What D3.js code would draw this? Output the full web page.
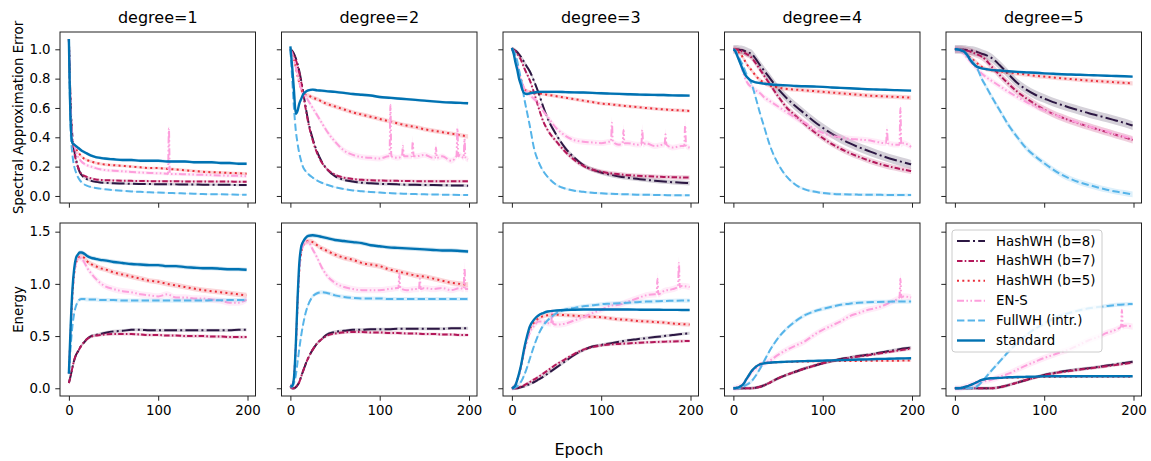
<!DOCTYPE html>
<html><head><meta charset="utf-8">
<script src="https://cdn.jsdelivr.net/npm/d3@7"></script>
<style>
body{margin:0;background:#fff}
svg{display:block}
text{font-family:"DejaVu Sans",sans-serif;fill:#000}
</style>
</head><body>
<svg id="c" width="1151" height="461"></svg>
<script>
// ---------------- DATA ----------------
const degrees = ["degree=1","degree=2","degree=3","degree=4","degree=5"];
const seriesNames = ["HashWH (b=8)","HashWH (b=7)","HashWH (b=5)","EN-S","FullWH (intr.)","standard"];
const epochs = [0,2,4,6,8,10,12,14,17,20,25,30,35,40,50,60,70,80,90,100,110,120,130,140,150,160,170,180,190,199];
const xTicks = [0,100,200];
const errTicks = [0,0.2,0.4,0.6,0.8,1.0];
const enTicks = [0,0.5,1.0,1.5];

// Spectral Approximation Error (top row), one array per degree
const err_b8 = [
 [1.07,0.62,0.40,0.31,0.25,0.20,0.165,0.145,0.125,0.115,0.103,0.096,0.092,0.090,0.087,0.085,0.083,0.082,0.081,0.080,0.080,0.079,0.078,0.078,0.077,0.077,0.076,0.076,0.075,0.075],
 [1.00,0.99,0.97,0.94,0.90,0.85,0.79,0.72,0.61,0.51,0.39,0.30,0.235,0.19,0.135,0.11,0.098,0.09,0.086,0.083,0.081,0.079,0.077,0.076,0.075,0.074,0.073,0.072,0.071,0.07],
 [1.00,0.998,0.99,0.98,0.965,0.95,0.93,0.91,0.88,0.85,0.78,0.70,0.61,0.53,0.415,0.325,0.26,0.21,0.18,0.16,0.145,0.133,0.124,0.117,0.11,0.104,0.099,0.094,0.09,0.087],
 [1.00,1.00,0.999,0.998,0.996,0.995,0.99,0.985,0.978,0.97,0.935,0.89,0.85,0.81,0.73,0.665,0.61,0.56,0.51,0.465,0.425,0.39,0.36,0.333,0.31,0.287,0.266,0.247,0.23,0.216],
 [1.00,1.00,1.00,1.00,0.999,0.998,0.997,0.995,0.992,0.99,0.982,0.97,0.96,0.945,0.893,0.83,0.77,0.725,0.69,0.665,0.64,0.62,0.60,0.582,0.564,0.548,0.532,0.515,0.498,0.48]
];
const err_b7 = [
 [1.07,0.60,0.38,0.30,0.24,0.20,0.17,0.15,0.138,0.13,0.12,0.113,0.11,0.108,0.106,0.104,0.103,0.102,0.101,0.10,0.10,0.10,0.099,0.099,0.099,0.098,0.098,0.098,0.097,0.097],
 [1.00,0.98,0.96,0.93,0.89,0.84,0.78,0.71,0.60,0.50,0.38,0.29,0.23,0.19,0.145,0.125,0.115,0.11,0.107,0.105,0.104,0.103,0.102,0.101,0.10,0.10,0.10,0.10,0.10,0.10],
 [1.00,0.995,0.985,0.97,0.95,0.93,0.90,0.87,0.83,0.79,0.70,0.60,0.51,0.45,0.37,0.30,0.245,0.205,0.18,0.165,0.155,0.148,0.142,0.138,0.135,0.132,0.13,0.128,0.126,0.125],
 [1.00,1.00,0.998,0.995,0.99,0.985,0.978,0.97,0.96,0.945,0.905,0.86,0.815,0.77,0.68,0.60,0.545,0.49,0.44,0.395,0.355,0.322,0.293,0.268,0.245,0.225,0.208,0.193,0.18,0.17],
 [1.00,1.00,1.00,0.999,0.998,0.996,0.993,0.99,0.985,0.978,0.965,0.95,0.925,0.89,0.825,0.765,0.71,0.665,0.625,0.59,0.56,0.535,0.512,0.492,0.473,0.454,0.435,0.417,0.40,0.382]
];
const err_b5 = [
 [1.07,0.55,0.37,0.34,0.32,0.30,0.285,0.27,0.255,0.245,0.235,0.225,0.22,0.215,0.21,0.205,0.20,0.195,0.19,0.19,0.185,0.18,0.175,0.17,0.165,0.162,0.16,0.157,0.155,0.152],
 [1.00,0.97,0.93,0.88,0.82,0.77,0.73,0.70,0.69,0.685,0.67,0.66,0.645,0.63,0.61,0.59,0.57,0.555,0.54,0.525,0.51,0.495,0.48,0.47,0.455,0.445,0.435,0.425,0.415,0.405],
 [1.00,0.98,0.94,0.89,0.84,0.80,0.76,0.73,0.715,0.71,0.705,0.70,0.695,0.69,0.68,0.67,0.66,0.65,0.64,0.63,0.625,0.618,0.612,0.606,0.60,0.595,0.59,0.586,0.583,0.58],
 [1.00,0.998,0.99,0.98,0.97,0.95,0.93,0.91,0.88,0.86,0.82,0.79,0.77,0.755,0.74,0.73,0.725,0.72,0.715,0.71,0.705,0.70,0.695,0.69,0.685,0.682,0.679,0.676,0.673,0.67],
 [1.00,1.00,0.998,0.995,0.99,0.98,0.97,0.96,0.945,0.93,0.905,0.88,0.865,0.858,0.85,0.842,0.835,0.828,0.82,0.814,0.808,0.802,0.797,0.792,0.787,0.783,0.779,0.775,0.771,0.768]
];
const err_ens = [
 [1.07,0.60,0.40,0.35,0.30,0.27,0.25,0.235,0.22,0.21,0.20,0.19,0.182,0.177,0.172,0.168,0.164,0.16,0.157,0.155,0.152,0.15,0.148,0.146,0.144,0.142,0.14,0.138,0.137,0.135],
 [1.00,0.97,0.93,0.88,0.82,0.77,0.73,0.70,0.68,0.65,0.60,0.55,0.50,0.45,0.37,0.31,0.28,0.265,0.26,0.255,0.27,0.26,0.27,0.27,0.28,0.26,0.27,0.24,0.28,0.25],
 [1.00,0.98,0.94,0.89,0.84,0.80,0.76,0.73,0.71,0.69,0.66,0.63,0.58,0.54,0.46,0.41,0.38,0.37,0.365,0.36,0.37,0.35,0.36,0.35,0.36,0.34,0.35,0.33,0.34,0.33],
 [1.00,0.99,0.97,0.94,0.90,0.86,0.82,0.79,0.76,0.745,0.72,0.70,0.67,0.65,0.61,0.57,0.53,0.50,0.46,0.43,0.41,0.40,0.39,0.385,0.38,0.37,0.36,0.35,0.36,0.335],
 [1.00,1.00,0.995,0.99,0.98,0.97,0.955,0.94,0.92,0.90,0.865,0.835,0.81,0.79,0.75,0.71,0.675,0.64,0.61,0.585,0.56,0.535,0.515,0.495,0.475,0.455,0.44,0.42,0.405,0.39]
];
const err_full = [
 [1.07,0.45,0.28,0.20,0.16,0.13,0.11,0.095,0.08,0.07,0.06,0.055,0.05,0.046,0.04,0.035,0.031,0.028,0.025,0.023,0.021,0.019,0.017,0.015,0.013,0.012,0.011,0.01,0.009,0.008],
 [1.00,0.80,0.60,0.45,0.36,0.29,0.24,0.20,0.17,0.15,0.125,0.105,0.09,0.078,0.06,0.047,0.038,0.032,0.027,0.023,0.02,0.017,0.015,0.013,0.011,0.01,0.009,0.008,0.007,0.006],
 [1.00,0.99,0.96,0.92,0.86,0.80,0.73,0.66,0.57,0.48,0.32,0.23,0.17,0.13,0.075,0.05,0.036,0.028,0.022,0.018,0.015,0.013,0.011,0.009,0.008,0.007,0.006,0.005,0.004,0.004],
 [1.00,0.99,0.97,0.95,0.92,0.90,0.87,0.84,0.80,0.77,0.67,0.56,0.46,0.36,0.22,0.13,0.075,0.045,0.03,0.02,0.015,0.012,0.01,0.009,0.008,0.008,0.007,0.007,0.007,0.007],
 [1.00,1.00,0.998,0.995,0.99,0.985,0.97,0.955,0.935,0.915,0.87,0.80,0.745,0.69,0.586,0.484,0.40,0.325,0.27,0.223,0.18,0.143,0.115,0.092,0.075,0.058,0.043,0.03,0.02,0.011]
];
const err_std = [
 [1.07,0.50,0.36,0.35,0.34,0.33,0.32,0.31,0.30,0.29,0.275,0.265,0.26,0.255,0.25,0.245,0.245,0.24,0.24,0.24,0.235,0.235,0.235,0.23,0.23,0.23,0.225,0.225,0.22,0.22],
 [1.02,0.88,0.72,0.56,0.58,0.63,0.66,0.69,0.71,0.72,0.725,0.72,0.718,0.715,0.71,0.703,0.695,0.69,0.685,0.675,0.67,0.665,0.66,0.655,0.65,0.645,0.64,0.637,0.635,0.632],
 [1.01,0.97,0.91,0.86,0.80,0.76,0.72,0.70,0.695,0.70,0.705,0.71,0.71,0.71,0.71,0.708,0.706,0.705,0.703,0.70,0.698,0.696,0.694,0.692,0.69,0.689,0.688,0.686,0.685,0.684],
 [1.00,0.99,0.96,0.93,0.90,0.87,0.84,0.82,0.80,0.785,0.775,0.77,0.765,0.762,0.757,0.754,0.75,0.748,0.746,0.744,0.74,0.737,0.734,0.731,0.728,0.726,0.724,0.722,0.72,0.718],
 [1.00,1.00,0.998,0.995,0.99,0.985,0.975,0.96,0.93,0.905,0.88,0.87,0.865,0.86,0.855,0.85,0.846,0.843,0.84,0.836,0.833,0.83,0.828,0.826,0.824,0.822,0.82,0.818,0.816,0.814]
];

// Energy (bottom row)
const en_b8 = [
 [0.05,0.12,0.20,0.27,0.32,0.35,0.38,0.41,0.44,0.47,0.50,0.51,0.52,0.53,0.545,0.55,0.56,0.56,0.555,0.555,0.555,0.555,0.555,0.555,0.555,0.555,0.555,0.555,0.56,0.56],
 [0.02,0.00,0.00,0.01,0.03,0.06,0.11,0.16,0.23,0.29,0.37,0.43,0.47,0.51,0.54,0.55,0.56,0.56,0.565,0.565,0.565,0.57,0.57,0.57,0.57,0.57,0.57,0.575,0.575,0.575],
 [0.00,0.00,0.00,0.00,0.005,0.01,0.015,0.02,0.03,0.04,0.06,0.085,0.11,0.14,0.20,0.26,0.32,0.365,0.40,0.415,0.43,0.445,0.46,0.47,0.48,0.49,0.50,0.51,0.52,0.527],
 [0,0,0,0,0,0,0,0,0,0,0.005,0.015,0.03,0.05,0.095,0.13,0.16,0.19,0.215,0.24,0.26,0.28,0.295,0.31,0.32,0.335,0.35,0.365,0.38,0.39],
 [0,0,0,0,0,0,0,0,0,0,0,0,0,0,0.01,0.03,0.055,0.08,0.105,0.128,0.145,0.16,0.172,0.183,0.193,0.205,0.218,0.23,0.243,0.255]
];
const en_b7 = [
 [0.05,0.12,0.20,0.27,0.32,0.35,0.38,0.41,0.44,0.47,0.495,0.505,0.51,0.515,0.52,0.52,0.52,0.515,0.51,0.51,0.505,0.505,0.50,0.50,0.50,0.495,0.495,0.49,0.49,0.49],
 [0.02,0.00,0.00,0.01,0.03,0.06,0.11,0.16,0.23,0.29,0.37,0.43,0.47,0.50,0.525,0.535,0.54,0.54,0.535,0.535,0.53,0.53,0.525,0.525,0.52,0.52,0.515,0.515,0.51,0.51],
 [0,0,0,0.005,0.01,0.015,0.02,0.03,0.045,0.06,0.085,0.11,0.14,0.17,0.23,0.28,0.33,0.37,0.395,0.41,0.42,0.425,0.43,0.435,0.44,0.443,0.446,0.449,0.451,0.453],
 [0,0,0,0,0,0,0,0,0,0,0.005,0.015,0.03,0.05,0.095,0.13,0.16,0.19,0.215,0.24,0.26,0.275,0.29,0.305,0.315,0.328,0.342,0.355,0.368,0.38],
 [0,0,0,0,0,0,0,0,0,0,0,0,0,0,0.01,0.03,0.055,0.08,0.103,0.125,0.142,0.156,0.168,0.179,0.189,0.2,0.212,0.223,0.235,0.245]
];
const en_b5 = [
 [0.14,0.55,0.90,1.10,1.20,1.24,1.26,1.26,1.25,1.22,1.19,1.17,1.15,1.14,1.11,1.09,1.07,1.05,1.03,1.02,1.00,0.985,0.97,0.955,0.94,0.93,0.92,0.91,0.90,0.89],
 [0.02,0.02,0.10,0.38,0.80,1.13,1.29,1.36,1.40,1.41,1.40,1.37,1.34,1.32,1.28,1.25,1.23,1.20,1.185,1.17,1.14,1.12,1.10,1.08,1.07,1.05,1.03,1.01,1.00,0.99],
 [0,0.01,0.03,0.08,0.13,0.20,0.28,0.37,0.47,0.56,0.63,0.67,0.69,0.70,0.705,0.70,0.695,0.69,0.685,0.68,0.67,0.66,0.655,0.645,0.64,0.635,0.63,0.62,0.615,0.61],
 [0,0,0.005,0.01,0.02,0.03,0.05,0.08,0.12,0.16,0.205,0.235,0.242,0.245,0.25,0.252,0.254,0.256,0.258,0.26,0.26,0.261,0.262,0.262,0.263,0.263,0.264,0.264,0.265,0.265],
 [0,0,0,0.002,0.005,0.01,0.015,0.02,0.03,0.04,0.06,0.078,0.088,0.094,0.098,0.102,0.104,0.106,0.107,0.108,0.109,0.11,0.11,0.11,0.11,0.11,0.11,0.11,0.11,0.11]
];
const en_ens = [
 [0.14,0.55,0.90,1.10,1.20,1.24,1.25,1.24,1.21,1.16,1.10,1.05,1.01,0.98,0.95,0.93,0.92,0.90,0.89,0.88,0.90,0.87,0.87,0.86,0.86,0.85,0.84,0.82,0.82,0.85],
 [0.02,0.02,0.10,0.38,0.80,1.13,1.29,1.36,1.40,1.40,1.33,1.25,1.16,1.09,1.01,0.97,0.95,0.94,0.94,0.94,0.95,0.96,0.94,0.95,0.96,0.95,0.96,0.94,0.96,0.95],
 [0,0.01,0.03,0.08,0.13,0.20,0.28,0.36,0.45,0.53,0.60,0.64,0.64,0.625,0.61,0.62,0.65,0.68,0.72,0.75,0.79,0.80,0.83,0.86,0.89,0.90,0.93,0.95,0.98,0.97],
 [0,0,0.005,0.01,0.02,0.03,0.05,0.075,0.11,0.15,0.19,0.22,0.24,0.26,0.32,0.37,0.41,0.45,0.51,0.56,0.60,0.64,0.69,0.72,0.75,0.77,0.80,0.84,0.88,0.87],
 [0,0,0,0,0.005,0.01,0.015,0.02,0.03,0.04,0.05,0.06,0.07,0.08,0.11,0.14,0.18,0.22,0.255,0.29,0.32,0.35,0.38,0.42,0.46,0.49,0.53,0.56,0.60,0.59]
];
const en_full = [
 [0.14,0.40,0.60,0.72,0.79,0.83,0.85,0.855,0.855,0.85,0.85,0.85,0.845,0.845,0.845,0.84,0.84,0.84,0.84,0.84,0.84,0.84,0.84,0.84,0.84,0.843,0.843,0.845,0.845,0.845],
 [0.02,0.02,0.05,0.12,0.25,0.38,0.50,0.60,0.72,0.80,0.88,0.91,0.92,0.915,0.89,0.875,0.865,0.86,0.86,0.86,0.855,0.855,0.855,0.855,0.855,0.855,0.855,0.855,0.855,0.855],
 [0,0,0.01,0.02,0.04,0.06,0.09,0.13,0.20,0.28,0.41,0.52,0.60,0.65,0.72,0.755,0.77,0.785,0.795,0.805,0.81,0.815,0.82,0.825,0.83,0.833,0.836,0.838,0.84,0.84],
 [0,0,0,0,0.005,0.01,0.02,0.03,0.045,0.065,0.12,0.19,0.27,0.35,0.48,0.575,0.645,0.70,0.735,0.76,0.78,0.80,0.81,0.82,0.824,0.827,0.829,0.83,0.83,0.83],
 [0,0,0,0,0,0,0,0,0,0.005,0.02,0.06,0.11,0.16,0.255,0.35,0.435,0.51,0.57,0.62,0.665,0.70,0.725,0.748,0.766,0.778,0.788,0.798,0.804,0.808]
];
const en_std = [
 [0.14,0.60,0.95,1.15,1.25,1.28,1.30,1.30,1.29,1.27,1.25,1.24,1.23,1.225,1.21,1.20,1.19,1.185,1.18,1.18,1.17,1.17,1.16,1.155,1.15,1.15,1.145,1.14,1.14,1.135],
 [0.02,0.02,0.10,0.40,0.85,1.20,1.35,1.40,1.44,1.46,1.465,1.46,1.45,1.44,1.42,1.41,1.40,1.39,1.37,1.36,1.35,1.345,1.34,1.335,1.33,1.325,1.32,1.32,1.315,1.31],
 [0,0.01,0.03,0.08,0.14,0.21,0.30,0.39,0.50,0.59,0.66,0.70,0.72,0.735,0.745,0.75,0.752,0.754,0.755,0.755,0.755,0.755,0.754,0.753,0.752,0.752,0.751,0.751,0.75,0.75],
 [0,0,0.005,0.01,0.02,0.03,0.05,0.08,0.12,0.16,0.205,0.23,0.24,0.245,0.25,0.255,0.258,0.26,0.262,0.265,0.267,0.27,0.272,0.275,0.277,0.28,0.282,0.284,0.286,0.287],
 [0,0,0,0.002,0.005,0.01,0.015,0.02,0.03,0.04,0.06,0.08,0.09,0.096,0.10,0.105,0.108,0.11,0.112,0.114,0.115,0.115,0.115,0.115,0.115,0.115,0.115,0.115,0.115,0.115]
];

// EN-S spikes: [degree index, epoch, base, peak]
const ensSpikesErr = [
 [0,112,0.15,0.46],
 [1,112,0.27,0.62],[1,126,0.27,0.34],[1,137,0.27,0.37],[1,163,0.26,0.33],[1,187,0.27,0.46],[1,195,0.26,0.39],
 [2,112,0.37,0.50],[2,125,0.36,0.45],[2,146,0.35,0.45],[2,172,0.35,0.42],[2,194,0.34,0.48],
 [3,172,0.36,0.45],[3,187,0.35,0.60]
];
const ensSpikesEn = [
 [1,122,0.96,1.10],[1,145,0.95,1.05],[1,195,0.95,1.15],
 [2,45,0.62,0.72],[2,163,0.90,1.05],[2,187,0.97,1.20],
 [3,187,0.87,1.05],
 [4,187,0.59,0.75]
];

// band half-widths (±std), per degree
const bandErr = [
 [0.008,0.01,0.015,0.03,0.03],
 [0.008,0.01,0.015,0.02,0.025],
 [0.01,0.015,0.012,0.015,0.015],
 [0.012,0.02,0.02,0.02,0.02],
 [0.004,0.005,0.008,0.01,0.02],
 [0.01,0.01,0.01,0.008,0.008]
];
const bandEn = [
 [0.015,0.015,0.015,0.015,0.015],
 [0.015,0.015,0.015,0.015,0.015],
 [0.025,0.025,0.02,0.01,0.01],
 [0.03,0.03,0.03,0.03,0.03],
 [0.02,0.02,0.02,0.02,0.02],
 [0.02,0.02,0.01,0.01,0.006]
];

// ---------------- STYLE ----------------
const colors = ["#2c1743","#b3185a","#ea2e3a","#fd9fdc","#56b4e9","#0072b2"];
const dashes = ["12.8,3.2,2,3.2","5.5,2.2,1.6,2.2","2,3.3","7,2.4,1.6,2.4,1.6,2.4","7.4,3.2",null];
const widths = [2,2,2,2,2,2.4];

const errData = [err_b8,err_b7,err_b5,err_ens,err_full,err_std];
const enData = [en_b8,en_b7,en_b5,en_ens,en_full,en_std];

// ---------------- LAYOUT ----------------
const svg = d3.select("#c");
const colLeft = d3.scaleLinear().domain([0,4]).range([60,946]);
const pw = 195.5;
const rows = [
  {top:32, bottom:203, domain:[-0.048,1.118], ticks:errTicks, fmt:d3.format(".1f"), data:errData, spikes:ensSpikesErr, band:bandErr, label:"Spectral Approximation Error"},
  {top:223, bottom:396, domain:[-0.074,1.583], ticks:enTicks, fmt:d3.format(".1f"), data:enData, spikes:ensSpikesEn, band:bandEn, label:"Energy"}
];

function seriesPoints(r, si, p){
  const vals = r.data[si][p];
  let pts = epochs.map((e,i)=>({e, v:vals[i], w:r.band[si][p]}));
  if (si === 3){
    r.spikes.filter(s=>s[0]===p).forEach(s=>{
      pts.push({e:s[1]-1, v:s[2], w:r.band[si][p]});
      pts.push({e:s[1], v:s[3], w:r.band[si][p]*2});
      pts.push({e:s[1]+1, v:s[2], w:r.band[si][p]});
    });
    pts.sort((a,b)=>a.e-b.e);
  }
  return pts;
}

rows.forEach((r, ri)=>{
  for (let p=0;p<5;p++){
    const left = colLeft(p);
    const x = d3.scaleLinear().domain([-9.95,208.95]).range([left,left+pw]);
    const y = d3.scaleLinear().domain(r.domain).range([r.bottom,r.top]);
    const g = svg.append("g");
    const clipId = `clip${ri}${p}`;
    svg.append("clipPath").attr("id",clipId).append("rect")
      .attr("x",left).attr("y",r.top).attr("width",pw).attr("height",r.bottom-r.top);
    const plot = g.append("g").attr("clip-path",`url(#${clipId})`);

    for (let si=0; si<6; si++){
      const pts = seriesPoints(r, si, p);
      const area = d3.area().curve(d3.curveMonotoneX)
        .x(d=>x(d.e)).y0(d=>y(d.v-d.w)).y1(d=>y(d.v+d.w));
      plot.append("path").attr("d",area(pts))
        .attr("fill",colors[si]).attr("fill-opacity",0.2).attr("stroke","none");
      const line = d3.line().curve(d3.curveMonotoneX).x(d=>x(d.e)).y(d=>y(d.v));
      plot.append("path").attr("d",line(pts))
        .attr("fill","none").attr("stroke",colors[si])
        .attr("stroke-width",widths[si])
        .attr("stroke-dasharray",dashes[si])
        .attr("stroke-linejoin","round");
    }

    // axes
    const xa = d3.axisBottom(x).tickValues(xTicks).tickSize(4.7).tickPadding(4.7);
    if (ri===0) xa.tickFormat("");
    const gx = g.append("g").attr("transform",`translate(0,${r.bottom})`).call(xa);
    const ya = d3.axisLeft(y).tickValues(r.ticks).tickSize(4.7).tickPadding(4.7).tickFormat(p===0? r.fmt : "");
    const gy = g.append("g").attr("transform",`translate(${left},0)`).call(ya);
    [gx,gy].forEach(a=>{
      a.select(".domain").remove();
      a.selectAll(".tick line").attr("stroke","#222").attr("stroke-width",1);
      a.selectAll(".tick text").attr("font-family","DejaVu Sans").attr("font-size","13.33px").attr("fill","#000");
    });
    g.append("rect").attr("x",left).attr("y",r.top).attr("width",pw).attr("height",r.bottom-r.top)
      .attr("fill","none").attr("stroke","#222").attr("stroke-width",1);

    if (ri===0){
      svg.append("text").attr("x",left+pw/2).attr("y",23).attr("text-anchor","middle")
        .attr("font-size","16px").text(degrees[p]);
    }
  }
  svg.append("text")
    .attr("transform",`translate(18,${(r.top+r.bottom)/2}) rotate(-90)`)
    .attr("text-anchor","middle").attr("dominant-baseline","central")
    .attr("font-size","13.33px").text(r.label);
});

svg.append("text").attr("x",579).attr("y",455).attr("text-anchor","middle")
  .attr("font-size","16px").text("Epoch");

// legend in degree=5 energy panel
const lg = svg.append("g").attr("transform",`translate(${colLeft(4)+6},230)`);
lg.append("rect").attr("x",0).attr("y",0).attr("width",150).attr("height",122).attr("rx",3)
  .attr("fill","#fff").attr("fill-opacity",0.8).attr("stroke","#ccc").attr("stroke-width",1);
seriesNames.forEach((n,i)=>{
  const yy = 11 + i*19.9;
  lg.append("line").attr("x1",5).attr("x2",33).attr("y1",yy).attr("y2",yy)
    .attr("stroke",colors[i]).attr("stroke-width",widths[i]).attr("stroke-dasharray",dashes[i]);
  lg.append("text").attr("x",44).attr("y",yy).attr("dominant-baseline","central")
    .attr("font-size","13.33px").text(n);
});
</script>
</body></html>
